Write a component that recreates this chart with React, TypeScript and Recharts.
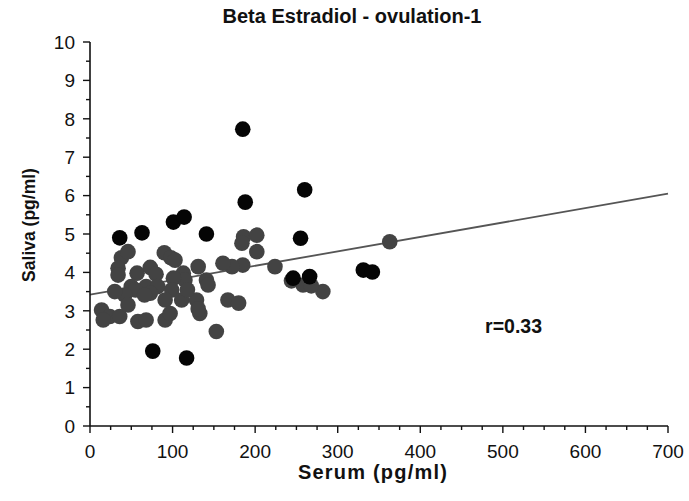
import React from "react";
import {
  ScatterChart,
  Scatter,
  XAxis,
  YAxis,
  ReferenceLine,
  ReferenceDot,
  Label,
} from "recharts";

// axis ticks
const xTicks = [0, 100, 200, 300, 400, 500, 600, 700];
const xMinorTicks = [
  25, 50, 75, 125, 150, 175, 225, 250, 275, 325, 350, 375, 425, 450, 475,
  525, 550, 575, 625, 650, 675,
];
const yTicks = [0, 1, 2, 3, 4, 5, 6, 7, 8, 9, 10];
const yMinorTicks = [0.5, 1.5, 2.5, 3.5, 4.5, 5.5, 6.5, 7.5, 8.5, 9.5];

// grey points (serum, saliva)
const graySerum = [
  186, 202, 184, 202, 185, 172, 224, 244, 258, 282, 363, 167, 180, 153, 161,
  38, 46, 90, 98, 103, 34, 34, 57, 73, 80, 113, 131, 141, 115, 101, 143, 50,
  68, 82, 99, 73, 55, 42, 66, 91, 111, 129, 14, 24, 36, 46, 58, 68, 91, 97,
  133, 16, 131, 268, 118, 30,
];
const graySaliva = [
  4.93, 4.97, 4.76, 4.54, 4.19, 4.15, 4.15, 3.78, 3.67, 3.5, 4.8, 3.28, 3.2,
  2.46, 4.24, 4.38, 4.54, 4.51, 4.38, 4.32, 4.11, 3.93, 3.98, 4.13, 3.95, 3.98,
  4.15, 3.8, 3.8, 3.85, 3.67, 3.63, 3.63, 3.63, 3.54, 3.46, 3.54, 3.41, 3.41,
  3.28, 3.28, 3.28, 3.02, 2.85, 2.85, 3.15, 2.72, 2.76, 2.76, 2.93, 2.93, 2.76,
  3.05, 3.65, 3.55, 3.5,
];

// black points (serum, saliva)
const blackSerum = [
  185, 188, 260, 255, 246, 266, 331, 342, 36, 63, 101, 114, 141, 76, 117,
];
const blackSaliva = [
  7.73, 5.83, 6.15, 4.89, 3.85, 3.89, 4.06, 4.01, 4.9, 5.03, 5.31, 5.44, 5.0,
  1.95, 1.77,
];

// regression line end points
const fitSerum = [0, 700];
const fitSaliva = [3.42, 6.05];

const grayData = graySerum.map((s, i) => ({ serum: s, saliva: graySaliva[i] }));
const blackData = blackSerum.map((s, i) => ({ serum: s, saliva: blackSaliva[i] }));

const FONT = '"Liberation Sans", Arial, sans-serif';
const INK = "#111";

function XTick(props: any) {
  const { x, y, payload } = props;
  const major = xTicks.includes(payload.value);
  return (
    <g>
      <line x1={x} y1={y} x2={x} y2={y + (major ? 7 : 4)} stroke={INK} strokeWidth={1.4} />
      {major && (
        <text x={x} y={y + 32} textAnchor="middle" fontSize={19} fill={INK} fontFamily={FONT}>
          {payload.value}
        </text>
      )}
    </g>
  );
}

function YTick(props: any) {
  const { x, y, payload } = props;
  const major = yTicks.includes(payload.value);
  return (
    <g>
      <line x1={x} y1={y} x2={x - (major ? 7 : 4)} y2={y} stroke={INK} strokeWidth={1.4} />
      {major && (
        <text x={x - 15} y={y} dy="0.36em" textAnchor="end" fontSize={19} fill={INK} fontFamily={FONT}>
          {payload.value}
        </text>
      )}
    </g>
  );
}

const dot = (color: string) => (p: any) => (
  <circle cx={p.cx} cy={p.cy} r={7.8} fill={color} />
);

export default function App() {
  return (
    <div
      style={{
        position: "absolute",
        left: 0,
        top: 0,
        width: 689,
        height: 501,
        background: "#fff",
        fontFamily: FONT,
      }}
    >
      <div
        style={{
          position: "absolute",
          left: 352,
          top: 5,
          transform: "translateX(-50%)",
          fontSize: 20,
          fontWeight: "bold",
          color: INK,
          whiteSpace: "nowrap",
        }}
      >
        Beta Estradiol - ovulation-1
      </div>
      <ScatterChart
        width={689}
        height={501}
        margin={{ top: 42, right: 21, bottom: 0, left: 0 }}
      >
        <XAxis
          type="number"
          dataKey="serum"
          domain={[0, 700]}
          ticks={[...xTicks, ...xMinorTicks].sort((a, b) => a - b)}
          interval={0}
          height={75}
          tickSize={0}
          tickMargin={0}
          tickLine={false}
          tick={XTick}
          axisLine={{ stroke: INK, strokeWidth: 1.6 }}
        >
          <Label
            value="Serum (pg/ml)"
            position="center"
            dx={-6}
            dy={8}
            style={{ fontSize: 20, fontWeight: "bold", fill: INK, fontFamily: FONT, letterSpacing: 1.2 }}
          />
        </XAxis>
        <YAxis
          type="number"
          dataKey="saliva"
          domain={[0, 10]}
          ticks={[...yTicks, ...yMinorTicks].sort((a, b) => a - b)}
          interval={0}
          width={90}
          tickSize={0}
          tickMargin={0}
          tickLine={false}
          tick={YTick}
          axisLine={{ stroke: INK, strokeWidth: 1.6 }}
        >
          <Label
            value="Saliva (pg/ml)"
            position="center"
            angle={-90}
            dx={-16}
            dy={-9}
            style={{ fontSize: 17.5, fontWeight: "bold", fill: INK, fontFamily: FONT, textAnchor: "middle" }}
          />
        </YAxis>
        <Scatter data={grayData} fill="#444" shape={dot("#434343")} isAnimationActive={false} />
        <ReferenceLine
          segment={[
            { x: fitSerum[0], y: fitSaliva[0] },
            { x: fitSerum[1], y: fitSaliva[1] },
          ]}
          stroke="#555"
          strokeWidth={1.8}
        />
        <Scatter data={blackData} fill="#000" shape={dot("#050505")} isAnimationActive={false} />
        <ReferenceDot
          x={513}
          y={2.6}
          r={0}
          label={{
            value: "r=0.33",
            position: "center",
            style: { fontSize: 19.5, fontWeight: "bold", fill: INK, fontFamily: FONT },
          }}
        />
      </ScatterChart>
    </div>
  );
}
